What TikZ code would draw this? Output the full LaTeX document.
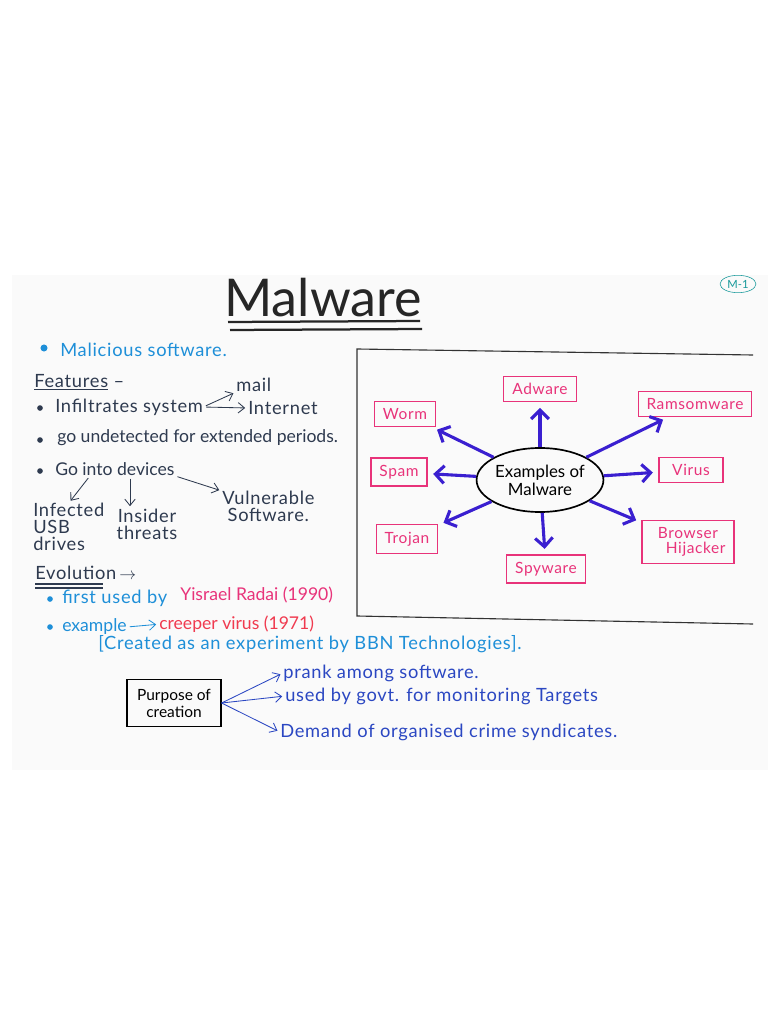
\documentclass[tikz,border=0pt]{standalone}
\usepackage{fontspec}
\setmainfont{Lato}
\usepackage{tikz}
\usetikzlibrary{arrows.meta,positioning,calc,shapes.geometric}
\definecolor{ink}{HTML}{2E3A4F}
\definecolor{skyink}{HTML}{1E8FD8}
\definecolor{pinkink}{HTML}{E8337A}
\definecolor{redink}{HTML}{F03A4F}
\definecolor{violet}{HTML}{3A1FD0}
\definecolor{navy}{HTML}{2B47C2}
\definecolor{tealink}{HTML}{17999A}
\definecolor{sheet}{HTML}{FAFAFA}

\begin{document}
\begin{tikzpicture}[x=0.025cm,y=-0.025cm,every node/.style={inner sep=0pt},
 hand/.style={anchor=west,font=\fontsize{13}{12}\selectfont\addfontfeature{LetterSpace=4}},
 plain/.style={font=\fontsize{12.5}{12}\selectfont},
 pbox/.style={draw=pinkink,text=pinkink,line width=0.8pt,inner xsep=6pt,inner ysep=5pt,font=\fontsize{11}{11}\selectfont\addfontfeature{LetterSpace=4},align=center},
 big/.style={violet,line width=2.2pt,-{Straight Barb[length=2.2mm,width=4.4mm]},shorten >=4pt},
 thin/.style={-{Straight Barb[length=1.6mm,width=2.6mm]},line width=0.6pt,shorten >=2pt,shorten <=2pt},
 dot/.style={circle,fill,minimum size=5pt}]
\useasboundingbox (0,0) rectangle (768,1024);
\fill[sheet] (12,275) rectangle (768,770);
% title
\node[font=\fontsize{37}{40}\selectfont,text=black!85] (title) at (323,298) {Malware};
\draw[line width=1.6pt,black!85] (228,322) -- (420,321);
\draw[line width=1.6pt,black!85] (230,330) -- (422,329);
\node[ellipse,draw=tealink,text=tealink,inner sep=1.5pt,font=\fontsize{8}{9}\selectfont] (tag) at (738,284) {M-1};
% definition and features
\node[dot,skyink] (b1) at (44,348) {};
\node[hand,text=skyink] (malic) at (60,350) {Malicious software.};
\node[hand,text=ink] (feat) at (34,382) {\underline{Features} --};
\node[dot,ink,minimum size=4pt] (b2) at (40,408) {};
\node[hand,text=ink] (infil) at (55,407) {Infiltrates system};
\node[hand,text=ink] (mail) at (236,385) {mail};
\node[hand,text=ink] (net) at (248,408) {Internet};
\draw[thin,ink] (infil.east) -- (mail.south west);
\draw[thin,ink] (infil.east) -- (net.west);
\node[dot,ink,minimum size=4pt] (b3) at (40,440) {};
\node[hand,plain,text=ink] (undet) at (57,438) {go undetected for extended periods.};
\node[dot,ink,minimum size=4pt] (b4) at (40,471) {};
\node[hand,plain,text=ink] (dev) at (55,469) {Go into devices};
\node[hand,text=ink,align=left,anchor=north west] (usb) at (33,503) {Infected\\USB\\drives};
\node[hand,text=ink,align=center,anchor=north] (insider) at (147,509) {Insider\\threats};
\node[hand,text=ink,align=left,anchor=north west] (vuln) at (222,491) {Vulnerable\\\ Software.};
\draw[thin,ink] (dev.south -| 90,0) -- (usb.north);
\draw[thin,ink] (dev.south -| 130,0) -- (insider.north -| 130,0);
\draw[thin,ink] (dev.south east) -- (vuln.north west);
% evolution
\node[hand,text=ink] (evo) at (35,573) {Evolution\,$\rightarrow$};
\draw[ink,line width=0.8pt] (35,584) -- (103,584);
\draw[ink,line width=0.8pt] (35,588) -- (103,588);
\node[dot,skyink,minimum size=4pt] (b5) at (50,599) {};
\node[hand,text=skyink] (first) at (62,598) {first used by};
\node[hand,plain,text=pinkink] (radai) at (180,595) {Yisrael Radai (1990)};
\node[dot,skyink,minimum size=4pt] (b6) at (50,627) {};
\node[hand,plain,text=skyink] (exmp) at (62,627) {example};
\node[hand,plain,text=redink,right=0.8cm of exmp.east,yshift=2pt] (creeper) {creeper virus (1971)};
\draw[thin,skyink] (exmp.east) -- (creeper.west);
\node[hand,text=skyink] (bbn) at (98,644) {[Created as an experiment by BBN Technologies].};
% purpose of creation
\node[draw,thick,align=center,minimum width=2.35cm,minimum height=1.18cm,font=\fontsize{11}{12}\selectfont] (purpose) at (174,703) {Purpose of\\creation};
\node[hand,text=navy] (prank) at (283,673) {prank among software.};
\node[hand,text=navy] (govt) at (285,696) {used by govt. for monitoring Targets};
\node[hand,text=navy] (demand) at (280,732) {Demand of organised crime syndicates.};
\foreach \t in {prank,govt,demand}
  \draw[thin,navy,shorten <=0pt] (purpose.east) -- (\t.west);
% examples of malware
\draw[line width=0.8pt,black!80] (753,355) -- (357,349) -- (357,616) -- (753,624);
\node[ellipse,draw,line width=1.2pt,minimum width=3.05cm,minimum height=1.6cm,align=center,font=\fontsize{12}{13}\selectfont] (ex) at (540,480) {Examples of\\Malware};
\node[pbox] (adware) at (540,389) {Adware};
\node[pbox] (ransom) at (695,404) {Ramsomware};
\node[pbox] (worm) at (405,414) {Worm};
\node[pbox] (spam) at (399,472) {Spam};
\node[pbox,minimum width=1.6cm] (virus) at (691,470) {Virus};
\node[pbox] (trojan) at (407,539) {Trojan};
\node[pbox] (hijack) at (688,542) {Browser\\\quad Hijacker};
\node[pbox] (spy) at (546,569) {Spyware};
\foreach \t in {adware,ransom,worm,spam,virus,trojan,hijack,spy}
  \draw[big] (ex) -- (\t);
\end{tikzpicture}
\end{document}
